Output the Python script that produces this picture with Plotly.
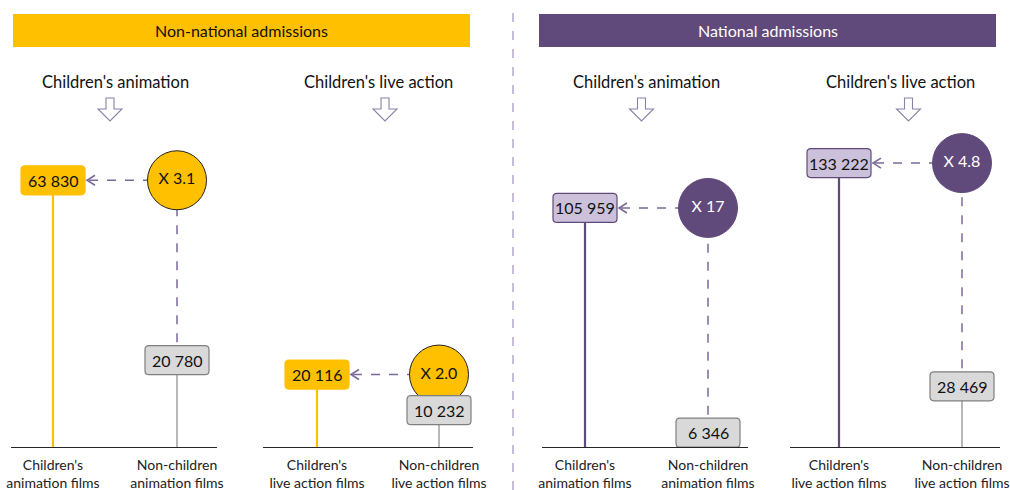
import plotly.graph_objects as go

# ---------------- data ----------------
group_titles = ["Non-national admissions", "National admissions"]
panel_titles = ["Children's animation", "Children's live action",
                "Children's animation", "Children's live action"]
children_vals = [63830, 20116, 105959, 133222]
non_children_vals = [20780, 10232, 6346, 28469]
ratio_labels = ["X 3.1", "X 2.0", "X 17", "X 4.8"]
tick_labels = [
    ["Children's<br>animation films", "Non-children<br>animation films"],
    ["Children's<br>live action films", "Non-children<br>live action films"],
    ["Children's<br>animation films", "Non-children<br>animation films"],
    ["Children's<br>live action films", "Non-children<br>live action films"],
]

# ---------------- style / layout ----------------
W, H = 1010, 490
FONT = "Lato"
YELLOW = "#FFC000"
PURPLE = "#604A7B"
LPURPLE = "#CCC1DA"
GFILL = "#D9D9D9"
GLINE = "#7F7F7F"
DASHC = "#7B6A99"
ARROWC = "#8C80A8"

# pixel geometry of each panel: baseline x0, x1, child line x, non-child line x, y max,
# horizontal pixel offset of the block arrow under the panel title
panels = [
    (11, 217, 53, 177, 97400, -5),
    (263, 473, 317, 439, 113000, 7),
    (542, 748, 585, 708, 180400, -5),
    (790, 1000, 839, 962, 191000, 8),
]
BASE_Y, TOP_Y = 447, 40

def pxx(x):
    return x / W

def pyy(y):
    return 1 - y / H

def fmt(v):
    return f"{v:,}".replace(",", " ")

def rrect(w, h, r):
    a, b = w / 2, h / 2
    return (f"M {-a + r},{-b} L {a - r},{-b} Q {a},{-b} {a},{-b + r} "
            f"L {a},{b - r} Q {a},{b} {a - r},{b} L {-a + r},{b} "
            f"Q {-a},{b} {-a},{b - r} L {-a},{-b + r} Q {-a},{-b} {-a + r},{-b} Z")

def block_arrow(dx):
    pts = [(-4, 12), (4, 12), (4, 1), (12, 1), (0, -11), (-12, 1), (-4, 1)]
    return "M " + " L ".join(f"{x + dx},{y}" for x, y in pts) + " Z"

fig = go.Figure()
shapes, annotations = [], []
layout_axes = {}

for i, (x0, x1, cx, nx, ymax, adx) in enumerate(panels):
    n = i + 1
    xa = "x" if n == 1 else f"x{n}"
    ya = "y" if n == 1 else f"y{n}"
    xkey = "xaxis" if n == 1 else f"xaxis{n}"
    ykey = "yaxis" if n == 1 else f"yaxis{n}"
    unit = nx - cx
    layout_axes[xkey] = dict(
        domain=[pxx(x0), pxx(x1)], range=[(x0 - cx) / unit, (x1 - cx) / unit],
        anchor=ya, showgrid=False, zeroline=False, showline=True, automargin=False,
        linecolor="#262626", linewidth=1.3, ticks="", ticklabelstandoff=5,
        tickvals=[0, 1], ticktext=tick_labels[i],
        tickfont=dict(family=FONT, size=14, color="#222"),
    )
    layout_axes[ykey] = dict(
        domain=[pyy(BASE_Y), pyy(TOP_Y)], range=[0, ymax], anchor=xa, automargin=False,
        visible=False, showgrid=False, zeroline=False,
    )

    national = i >= 2
    main_c = PURPLE if national else YELLOW
    c_val, n_val = children_vals[i], non_children_vals[i]

    # stems
    fig.add_trace(go.Scatter(x=[0, 0], y=[0, c_val], mode="lines", xaxis=xa, yaxis=ya,
                             line=dict(color=main_c, width=2.2), hoverinfo="skip"))
    fig.add_trace(go.Scatter(x=[1, 1], y=[0, n_val], mode="lines", xaxis=xa, yaxis=ya,
                             line=dict(color="#A0A0A0", width=1.5), hoverinfo="skip"))
    # dashed connectors
    fig.add_trace(go.Scatter(x=[1, 1], y=[n_val, c_val], mode="lines", xaxis=xa, yaxis=ya,
                             line=dict(color=DASHC, width=1.5, dash="dash"), hoverinfo="skip"))
    fig.add_trace(go.Scatter(x=[0, 1], y=[c_val, c_val], mode="lines", xaxis=xa, yaxis=ya,
                             line=dict(color=DASHC, width=1.5, dash="dash"), hoverinfo="skip"))
    # ratio circle
    fig.add_trace(go.Scatter(
        x=[1], y=[c_val], mode="markers+text", xaxis=xa, yaxis=ya,
        text=[ratio_labels[i]], textposition="middle center",
        textfont=dict(family=FONT, size=16, color="white" if national else "#111"),
        marker=dict(size=59, color=main_c,
                    line=dict(color=PURPLE if national else "#222", width=1)),
        hoverinfo="skip"))

    # value boxes
    box_fill_c = LPURPLE if national else YELLOW
    box_line_c = PURPLE if national else YELLOW
    for xv, val, fc, lc in [(0, c_val, box_fill_c, box_line_c), (1, n_val, GFILL, GLINE)]:
        shapes.append(dict(type="path", xref=xa, yref=ya, xsizemode="pixel", ysizemode="pixel",
                           xanchor=xv, yanchor=val, path=rrect(64, 29, 4),
                           fillcolor=fc, line=dict(color=lc, width=1.2), layer="above"))
        annotations.append(dict(x=xv, y=val, xref=xa, yref=ya, text=fmt(val), showarrow=False,
                                xanchor="center", yanchor="middle",
                                font=dict(family=FONT, size=16, color="#111")))
    # chevron arrowhead at the box edge
    shapes.append(dict(type="path", xref=xa, yref=ya, xsizemode="pixel", ysizemode="pixel",
                       xanchor=0, yanchor=c_val, path="M 42,5 L 34,0 L 42,-5",
                       line=dict(color=DASHC, width=1.6), layer="above"))

    # panel titles and block arrows
    annotations.append(dict(x=0.5, y=pyy(82), xref=xa, yref="paper", text=panel_titles[i],
                            showarrow=False, xanchor="center", yanchor="middle",
                            font=dict(family=FONT, size=16.5, color="#111")))
    shapes.append(dict(type="path", xref=xa, yref="paper", xsizemode="pixel", ysizemode="pixel",
                       xanchor=0.5, yanchor=pyy(110), path=block_arrow(adx),
                       fillcolor="white", line=dict(color=ARROWC, width=1.1)))

# group header bars
for (gx0, gx1), title, fc, tc in [((13, 470), group_titles[0], YELLOW, "#111"),
                                  ((539, 996), group_titles[1], PURPLE, "white")]:
    shapes.append(dict(type="rect", xref="paper", yref="paper", x0=pxx(gx0), x1=pxx(gx1),
                       y0=pyy(47), y1=pyy(14), fillcolor=fc, line=dict(width=0)))
    annotations.append(dict(x=pxx((gx0 + gx1) / 2), y=pyy(30.5), xref="paper", yref="paper",
                            text=title, showarrow=False, xanchor="center", yanchor="middle",
                            font=dict(family=FONT, size=16, color=tc)))

# divider
shapes.append(dict(type="line", xref="paper", yref="paper", x0=pxx(513), x1=pxx(513),
                   y0=pyy(490), y1=pyy(5), line=dict(color="#A99CC6", width=1.3, dash="dash")))

fig.update_layout(
    width=W, height=H, margin=dict(l=0, r=0, t=0, b=0, pad=0), autosize=False,
    paper_bgcolor="white", plot_bgcolor="white", showlegend=False,
    shapes=shapes, annotations=annotations, **layout_axes,
)
fig.write_html(
    "out.html",
    config={"responsive": False, "displayModeBar": False},
    post_script="document.body.style.margin='0';document.body.style.overflow='hidden';",
)
